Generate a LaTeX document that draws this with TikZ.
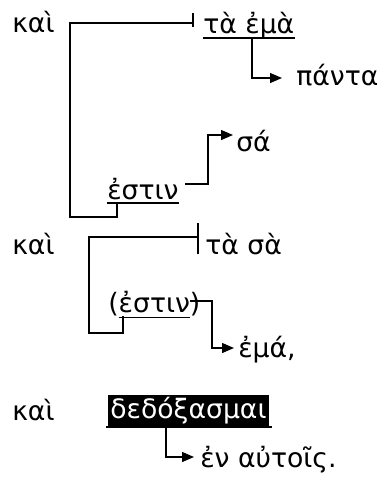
\documentclass[tikz,border=0pt]{standalone}
\usepackage{fontspec}
\setmainfont{DejaVu Sans}
\usetikzlibrary{arrows.meta}
\begin{document}
\begin{tikzpicture}[x=0.75pt,y=-0.75pt,
  txt/.style={anchor=base west,inner sep=0pt,font=\fontsize{20}{24}\selectfont},
  ln/.style={line width=1pt},
  arr/.style={ln,-{Triangle[length=9pt,width=7.5pt]}}]
\useasboundingbox (0,0) rectangle (390,482);
% block 1
\node[txt] (kai1) at (12,32) {καὶ};
\node[txt] (taema) at (203,33) {τὰ ἐμὰ};
\node[txt] (panta) at (296,85) {πάντα};
\node[txt] (sa) at (236,151) {σά};
\node[txt] (estin1) at (107,199) {ἐστιν};
\draw[ln] (taema.base west)++(0,5) coordinate (u1a) -- (taema.base east|-u1a) coordinate (u1b);
\draw[ln] (estin1.base west)++(0,4) coordinate (u2a) -- (estin1.base east|-u2a) coordinate (u2b);
\coordinate (t1) at (193,23);
\draw[ln] (193,13) -- (193,27);
\draw[ln] (117,203) -- (117,217) -- (70,217) -- (70,23) -- (t1);
\draw[arr] (252,38) -- (252,78) -- (282,78);
\draw[arr] (185,184) -- (208,184) -- (208,135) -- (233,135);
% block 2
\node[txt] (kai2) at (12,254) {καὶ};
\node[txt] (tasa) at (205,254) {τὰ σὰ};
\node[txt] (estin2) at (108,312) {(\underline{\vphantom{)}ἐστιν})};
\draw[ln] (198,223) -- (198,254);
\draw[ln] (123,316) -- (123,333) -- (89,333) -- (89,237) -- (198,237);
\draw[arr] (190,301) -- (212,301) -- (212,348) -- (234,348);
\node[txt] (ema) at (238,357) {ἐμά,};
% block 3
\node[txt] (kai3) at (12,420) {καὶ};
\node[txt,fill=black,text=white,inner sep=1.5pt,anchor=base west] (dedox) at (108,418) {δεδόξασμαι};
\draw[ln] (106,427) -- (272,427);
\draw[arr] (166,427) -- (166,457) -- (194,457);
\node[txt] (enaut) at (200,467) {ἐν αὐτοῖς.};
\end{tikzpicture}
\end{document}
